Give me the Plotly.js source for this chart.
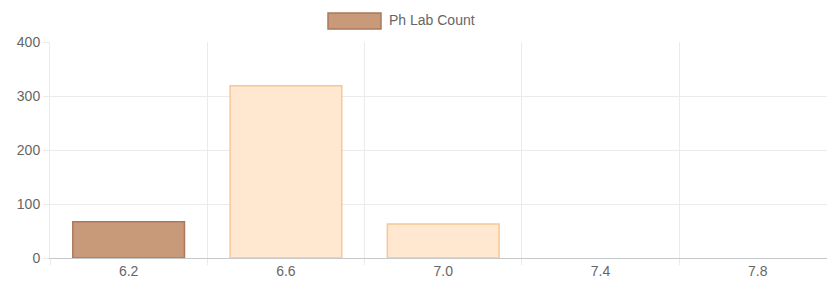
<!DOCTYPE html>
<html>
<head>
<meta charset="utf-8">
<script src="https://cdn.plot.ly/plotly-3.0.1.min.js"></script>
<style>html,body{margin:0;padding:0;background:#fff}#chart{width:827px;height:286px}</style>
</head>
<body>
<div id="chart"></div>
<script>
const categories = ["6.2", "6.6", "7.0", "7.4", "7.8"];
const counts = [67, 319, 63, 0, 0];
const seriesName = "Ph Lab Count";
const fillColors = ["#c89a7a", "#ffe8cf", "#ffe8cf", "#ffe8cf", "#ffe8cf"];
const lineColors = ["#a9795a", "#f6c796", "#f6c796", "#f6c796", "#f6c796"];
const yTicks = [0, 100, 200, 300, 400];

const trace = {
  type: "bar",
  x: categories,
  y: counts,
  name: seriesName,
  width: 0.71,
  marker: {
    color: fillColors,
    line: { color: lineColors, width: counts.map(v => (v > 0 ? 1.5 : 0)) }
  },
  showlegend: false,
  hoverinfo: "x+y"
};

const font = { family: "Liberation Sans, Arial, Helvetica, sans-serif", size: 14, color: "#666" };

const layout = {
  width: 827, height: 286,
  margin: { l: 50, r: 0, t: 42, b: 28, pad: 0 },
  paper_bgcolor: "#fff", plot_bgcolor: "#fff",
  font: font,
  xaxis: {
    type: "category",
    range: [-0.5, 4.44],
    tickson: "boundaries",
    showgrid: true, gridcolor: "#ebebeb", gridwidth: 1,
    ticks: "outside", ticklen: 6, tickcolor: "#ebebeb",
    showline: true, linecolor: "#c6c9cc", linewidth: 1,
    zeroline: false,
    tickfont: font,
    fixedrange: true
  },
  yaxis: {
    range: [0, 400],
    tickvals: yTicks,
    showgrid: true, gridcolor: "#ebebeb", gridwidth: 1,
    ticks: "outside", ticklen: 6, tickcolor: "#ebebeb",
    showline: true, linecolor: "#ebebeb",
    zeroline: false,
    tickfont: font,
    fixedrange: true
  },
  shapes: [
    { type: "rect", xref: "paper", yref: "paper",
      x0: (328 - 50) / 777, x1: (381 - 50) / 777,
      y0: (258 - 29) / 216, y1: (258 - 13) / 216,
      fillcolor: fillColors[0], line: { color: lineColors[0], width: 1.5 } }
  ],
  annotations: [
    { xref: "paper", yref: "paper", x: (387 - 50) / 777, y: (258 - 20) / 216,
      xanchor: "left", yanchor: "middle", showarrow: false,
      text: seriesName, font: font }
  ]
};

Plotly.newPlot("chart", [trace], layout, { displayModeBar: false, staticPlot: true });
</script>
</body>
</html>
